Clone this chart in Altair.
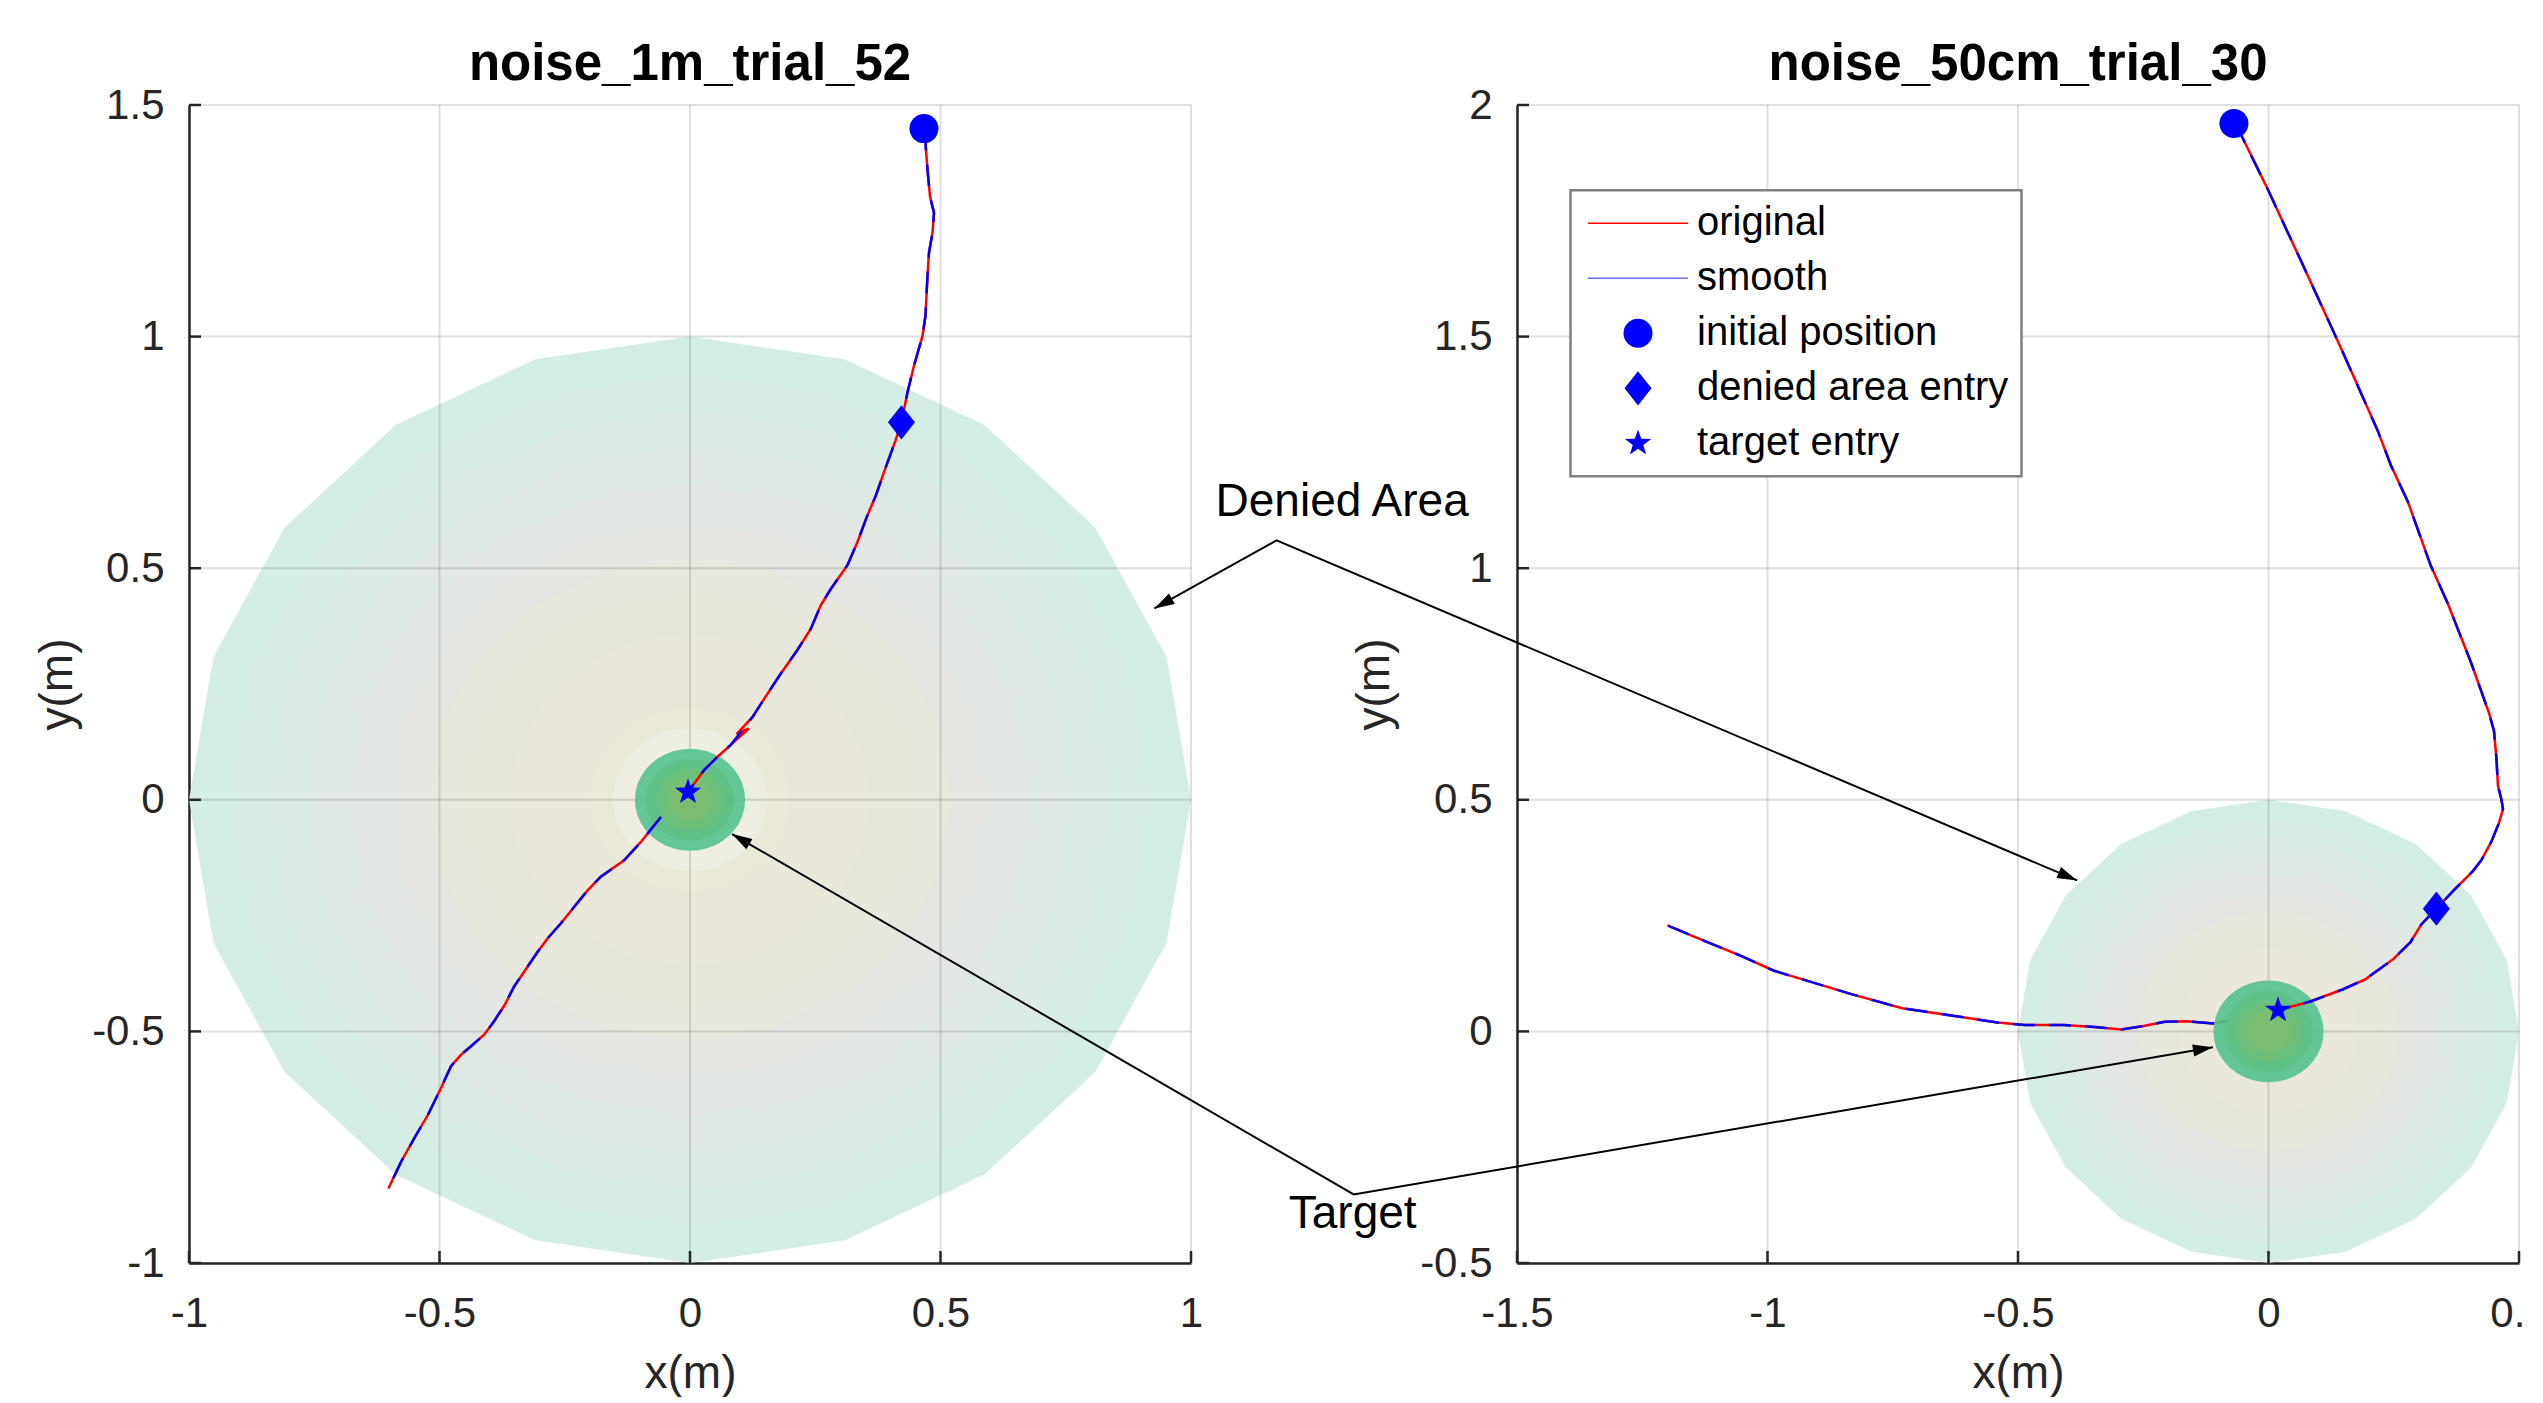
import math
import altair as alt
import numpy as np
import pandas as pd

FONT = "Liberation Sans"
AX_COLOR = "#262626"
RED = "#FF0000"
BLUE = "#0000FF"

# ---------------- layout (pixels) ----------------
W, H, GAP = 1002, 1158, 326

# ---------------- data ----------------
SERIES = ["original", "smooth", "initial position", "denied area entry", "target entry"]
LEGEND_COLORS = ["#FF0000", "#6B6BFF", "#0000FF", "#0000FF", "#0000FF"]

# left panel: noise_1m_trial_52
L_TITLE = "noise_1m_trial_52"
L_XDOM = [-1.0, 1.0]
L_YDOM = [-1.0, 1.5]
L_XTICKS = [-1, -0.5, 0, 0.5, 1]
L_YTICKS = [-1, -0.5, 0, 0.5, 1, 1.5]
L_CENTER = [0.0, 0.0]
L_DENIED_R = 1.0
L_TARGET_R = 0.11
# path from the initial position to the target entry
L_PRE_X = [0.467, 0.469, 0.474, 0.479, 0.487, 0.484, 0.477, 0.474, 0.470, 0.464,
           0.447, 0.434, 0.422, 0.410, 0.387, 0.371, 0.354, 0.334, 0.314, 0.281,
           0.261, 0.241, 0.214, 0.181, 0.148, 0.125, 0.081, 0.055, 0.028, -0.004]
L_PRE_Y = [1.449, 1.433, 1.361, 1.303, 1.267, 1.224, 1.181, 1.131, 1.045, 1.001,
           0.937, 0.879, 0.815, 0.775, 0.707, 0.657, 0.614, 0.556, 0.506, 0.455,
           0.420, 0.369, 0.323, 0.272, 0.218, 0.179, 0.118, 0.093, 0.064, 0.017]
# noise spike only in the original signal, inserted after point 25
L_SPIKE_AFTER = 25
L_SPIKE_X = [0.093, 0.117]
L_SPIKE_Y = [0.142, 0.154]
# path after the target entry
L_POST_X = [-0.004, -0.058, -0.098, -0.131, -0.178, -0.204, -0.231, -0.258, -0.284, -0.304,
            -0.324, -0.351, -0.370, -0.391, -0.411, -0.437, -0.457, -0.477, -0.497, -0.523,
            -0.550, -0.576, -0.602]
L_POST_Y = [0.017, -0.037, -0.091, -0.130, -0.166, -0.195, -0.231, -0.267, -0.299, -0.328,
            -0.360, -0.403, -0.443, -0.478, -0.507, -0.532, -0.550, -0.575, -0.622, -0.680,
            -0.730, -0.780, -0.839]
L_POST_HIDDEN = 2
L_MARK_X = [0.467, 0.422, -0.004]
L_MARK_Y = [1.449, 0.815, 0.017]

# right panel: noise_50cm_trial_30
R_TITLE = "noise_50cm_trial_30"
R_XDOM = [-1.5, 0.5]
R_YDOM = [-0.5, 2.0]
R_XTICKS = [-1.5, -1, -0.5, 0, 0.5]
R_YTICKS = [-0.5, 0, 0.5, 1, 1.5, 2]
R_CENTER = [0.0, 0.0]
R_DENIED_R = 0.5
R_TARGET_R = 0.11
R_PRE_X = [-0.069, -0.054, -0.001, 0.065, 0.128, 0.155, 0.218, 0.244, 0.278, 0.324,
           0.357, 0.404, 0.440, 0.450, 0.455, 0.458, 0.465, 0.468, 0.460, 0.445,
           0.425, 0.408, 0.372, 0.335, 0.305, 0.283, 0.249, 0.194, 0.149, 0.082, 0.019]
R_PRE_Y = [1.960, 1.934, 1.817, 1.663, 1.515, 1.450, 1.297, 1.223, 1.144, 1.005,
           0.926, 0.797, 0.688, 0.649, 0.589, 0.530, 0.500, 0.480, 0.450, 0.410,
           0.370, 0.346, 0.307, 0.265, 0.231, 0.192, 0.156, 0.113, 0.091, 0.064, 0.046]
R_POST_X = [0.019, -0.029, -0.062, -0.109, -0.163, -0.207, -0.252, -0.294, -0.341, -0.408,
            -0.486, -0.541, -0.630, -0.731, -0.831, -0.920, -0.987, -1.053, -1.143, -1.200]
R_POST_Y = [0.046, 0.032, 0.027, 0.017, 0.022, 0.021, 0.011, 0.004, 0.009, 0.014,
            0.014, 0.019, 0.034, 0.050, 0.080, 0.109, 0.131, 0.163, 0.203, 0.229]
R_POST_HIDDEN = 4
R_MARK_X = [-0.069, 0.335, 0.019]
R_MARK_Y = [1.960, 0.265, 0.046]

# annotations (text anchors and bends in right-panel units)
ANN_TEXT = ["Denied Area", "Target"]
ANN_TEXT_X = [-1.849, -1.828]
ANN_TEXT_Y = [1.112, -0.424]
ANN_BEND_X = [-1.980, -1.826]
ANN_BEND_Y = [1.060, -0.352]
ANN_LTIP_X = [0.927, 0.084]     # tips into the left panel (left-panel units)
ANN_LTIP_Y = [0.413, -0.074]
ANN_RTIP_X = [-0.382, -0.111]   # tips into the right panel (right-panel units)
ANN_RTIP_Y = [0.326, -0.034]

# shading of the denied area / target (fraction of radius, colour)
DENIED_SIDES = 20
RING_FRAC = [1.0, 0.92, 0.84, 0.76, 0.68, 0.60, 0.52, 0.44, 0.36, 0.28, 0.20, 0.155]
RING_COLOR = ["#D4EEE6", "#D8ECE6", "#DCEAE5", "#E0E8E4", "#E3E7E3", "#E5E6E1",
              "#E7E7DE", "#E8E7DC", "#E9E8DB", "#EAE8DA", "#EBE9DA", "#EFEEE3"]
TARGET_SIDES = 40
DISC_FRAC = [1.0, 0.8, 0.6, 0.4]
DISC_COLOR = ["#55C18E", "#60C185", "#6EC079", "#7CBF6E"]

# marker shapes
LINE_PATH = "M-3.45,-0.05L3.45,-0.05L3.45,0.05L-3.45,0.05Z"
DIAMOND_PATH = "M0,-1.18L0.93,0L0,1.18L-0.93,0Z"
STAR_PATH = ("M0,-0.95L0.2233,-0.3074L0.9035,-0.2936L0.3614,0.1174L0.5584,0.7686"
             "L0,0.38L-0.5584,0.7686L-0.3614,0.1174L-0.9035,-0.2936L-0.2233,-0.3074Z")
SHAPES = [LINE_PATH, LINE_PATH, "circle", DIAMOND_PATH, STAR_PATH]
ARROW_PATH = "M0,0L0.3,1L-0.3,1Z"
MARKER_SIZE = 841
LW = 2.5


def polygon_df(cx, cy, r, n):
    th = np.linspace(0, np.pi, n // 2 + 1)
    return pd.DataFrame({"x": cx + r * np.cos(th), "y": cy + r * np.sin(th),
                         "y2": cy - r * np.sin(th)})


def path_df(xs, ys):
    return pd.DataFrame({"x": list(xs), "y": list(ys), "i": list(range(len(xs)))})


LABEL_EXPR = "(datum.value < 0 ? '-' : '') + format(abs(datum.value), '~g')"


def make_panel(title, xdom, ydom, xticks, yticks, center, denied_r, target_r,
               pre_x, pre_y, orig_x, orig_y, post_x, post_y, hidden_n,
               mark_x, mark_y, legend, ytitle_pad, extra=None):
    xaxis = alt.Axis(values=xticks, labelExpr=LABEL_EXPR, grid=False, ticks=False, tickSize=0,
                     domainColor=AX_COLOR, domainWidth=2.5, labelFont=FONT, labelFontSize=42,
                     labelColor=AX_COLOR, labelPadding=30, labelFlush=False, labelOverlap=False,
                     title="x(m)", titleFont=FONT, titleFontSize=46, titleFontWeight="normal",
                     titleColor=AX_COLOR, titlePadding=17)
    yaxis = alt.Axis(values=yticks, labelExpr=LABEL_EXPR, grid=False, ticks=False, tickSize=0,
                     domainColor=AX_COLOR, domainWidth=2.5, labelFont=FONT, labelFontSize=42,
                     labelColor=AX_COLOR, labelPadding=25, labelFlush=False, labelOverlap=False,
                     title="y(m)", titleFont=FONT, titleFontSize=46, titleFontWeight="normal",
                     titleColor=AX_COLOR, titlePadding=ytitle_pad)
    xsc = alt.Scale(domain=xdom, nice=False, zero=False)
    ysc = alt.Scale(domain=ydom, nice=False, zero=False)

    def X():
        return alt.X("x:Q", scale=xsc, axis=xaxis)

    def Y():
        return alt.Y("y:Q", scale=ysc, axis=yaxis)

    layers = []
    cx, cy = center
    for frac, col in zip(RING_FRAC, RING_COLOR):
        layers.append(alt.Chart(polygon_df(cx, cy, denied_r * frac, DENIED_SIDES))
                      .mark_area(color=col, opacity=1, orient="vertical")
                      .encode(x=X(), y=Y(), y2="y2:Q"))
    # grid
    layers.append(alt.Chart(pd.DataFrame({"x": xticks}))
                  .mark_rule(color=AX_COLOR, opacity=0.15, strokeWidth=2).encode(x=X()))
    layers.append(alt.Chart(pd.DataFrame({"y": yticks}))
                  .mark_rule(color=AX_COLOR, opacity=0.15, strokeWidth=2).encode(y=Y()))

    def line_pair(df_orig, df_smooth):
        return [
            alt.Chart(df_orig).mark_line(color=RED, strokeWidth=LW)
            .encode(x=X(), y=Y(), order=alt.Order("i:Q")),
            alt.Chart(df_smooth).mark_line(color=BLUE, strokeWidth=LW, strokeDash=[22, 14])
            .encode(x=X(), y=Y(), order=alt.Order("i:Q")),
        ]

    hid = path_df(post_x[:hidden_n], post_y[:hidden_n])
    vis = path_df(post_x[hidden_n - 1:], post_y[hidden_n - 1:])
    layers += line_pair(hid, hid)
    for frac, col in zip(DISC_FRAC, DISC_COLOR):
        layers.append(alt.Chart(polygon_df(cx, cy, target_r * frac, TARGET_SIDES))
                      .mark_area(color=col, opacity=0.9, orient="vertical")
                      .encode(x=X(), y=Y(), y2="y2:Q"))
    layers += line_pair(vis, vis)
    layers += line_pair(path_df(orig_x, orig_y), path_df(pre_x, pre_y))

    mdf = pd.DataFrame({"x": mark_x, "y": mark_y, "series": SERIES[2:]})
    layers.append(alt.Chart(mdf).mark_point(filled=True, size=MARKER_SIZE, opacity=1, strokeWidth=0)
                  .encode(x=X(), y=Y(),
                          shape=alt.Shape("series:N", scale=alt.Scale(domain=SERIES, range=SHAPES),
                                          legend=legend),
                          color=alt.Color("series:N", scale=alt.Scale(domain=SERIES, range=LEGEND_COLORS),
                                          legend=legend)))
    # inward ticks
    layers.append(alt.Chart(pd.DataFrame({"x": xticks, "y": [ydom[0]] * len(xticks)}))
                  .mark_tick(orient="vertical", size=12, thickness=2.5, color=AX_COLOR, opacity=1, yOffset=-6)
                  .encode(x=X(), y=Y()))
    layers.append(alt.Chart(pd.DataFrame({"x": [xdom[0]] * len(yticks), "y": yticks}))
                  .mark_tick(orient="horizontal", size=12, thickness=2.5, color=AX_COLOR, opacity=1, xOffset=6)
                  .encode(x=X(), y=Y()))

    if extra is not None:
        layers += extra(X, Y)

    return alt.layer(*layers).properties(
        width=W, height=H,
        title=alt.TitleParams(title, font=FONT, fontSize=51, fontWeight="bold", color="black",
                              anchor="middle", baseline="alphabetic", offset=-47))


def annotations(X, Y):
    # convert left-panel tips into right-panel units
    def l2r_x(xl):
        px = (xl - L_XDOM[0]) * W / (L_XDOM[1] - L_XDOM[0]) - (W + GAP)
        return R_XDOM[0] + px * (R_XDOM[1] - R_XDOM[0]) / W

    def l2r_y(yl):
        return R_YDOM[0] + (yl - L_YDOM[0]) * (R_YDOM[1] - R_YDOM[0]) / (L_YDOM[1] - L_YDOM[0])

    kx = W / (R_XDOM[1] - R_XDOM[0])
    ky = H / (R_YDOM[1] - R_YDOM[0])
    rows, heads = [], []
    for g in range(len(ANN_TEXT)):
        lt = (l2r_x(ANN_LTIP_X[g]), l2r_y(ANN_LTIP_Y[g]))
        bd = (ANN_BEND_X[g], ANN_BEND_Y[g])
        rt = (ANN_RTIP_X[g], ANN_RTIP_Y[g])
        for i, p in enumerate([lt, bd, rt]):
            rows.append({"g": g, "i": i, "x": p[0], "y": p[1]})
        for tip in (lt, rt):
            dx = (tip[0] - bd[0]) * kx
            dy = -(tip[1] - bd[1]) * ky
            ang = math.degrees(math.atan2(dx, -dy)) % 360
            heads.append({"x": tip[0], "y": tip[1], "ang": ang})
    ldf = pd.DataFrame(rows)
    hdf = pd.DataFrame(heads)
    tdf = pd.DataFrame({"x": ANN_TEXT_X, "y": ANN_TEXT_Y, "label": ANN_TEXT})
    return [
        alt.Chart(ldf).mark_line(color="black", strokeWidth=2)
        .encode(x=X(), y=Y(), detail="g:N", order=alt.Order("i:Q")),
        alt.Chart(hdf).mark_point(shape=ARROW_PATH, filled=True, size=1600, color="black",
                                  opacity=1, strokeWidth=0)
        .encode(x=X(), y=Y(), angle=alt.Angle("ang:Q", scale=None)),
        alt.Chart(tdf).mark_text(font=FONT, fontSize=46, color="black", align="center",
                                 baseline="alphabetic")
        .encode(x=X(), y=Y(), text="label:N"),
    ]


def build(with_stroke_width=True):
    legend = alt.Legend(title=None, orient="none", legendX=53.5, legendY=85.3,
                        labelFont=FONT, labelFontSize=40, labelColor="black", labelLimit=1000,
                        symbolSize=MARKER_SIZE, symbolStrokeWidth=0, symbolOpacity=1,
                        symbolOffset=34.5, labelOffset=39, rowPadding=15, padding=13,
                        strokeColor="#808080", fillColor="white", cornerRadius=0)
    l_orig_x = L_PRE_X[:L_SPIKE_AFTER + 1] + L_SPIKE_X + L_PRE_X[L_SPIKE_AFTER + 1:]
    l_orig_y = L_PRE_Y[:L_SPIKE_AFTER + 1] + L_SPIKE_Y + L_PRE_Y[L_SPIKE_AFTER + 1:]
    left = make_panel(L_TITLE, L_XDOM, L_YDOM, L_XTICKS, L_YTICKS, L_CENTER, L_DENIED_R, L_TARGET_R,
                      L_PRE_X, L_PRE_Y, l_orig_x, l_orig_y, L_POST_X, L_POST_Y, L_POST_HIDDEN,
                      L_MARK_X, L_MARK_Y, None, 10)
    right = make_panel(R_TITLE, R_XDOM, R_YDOM, R_XTICKS, R_YTICKS, R_CENTER, R_DENIED_R, R_TARGET_R,
                       R_PRE_X, R_PRE_Y, R_PRE_X, R_PRE_Y, R_POST_X, R_POST_Y, R_POST_HIDDEN,
                       R_MARK_X, R_MARK_Y, legend, 21, extra=annotations)
    chart = alt.hconcat(left, right, spacing=GAP, bounds="flush").resolve_scale(
        color="independent", shape="independent"
    ).resolve_legend(
        color="independent", shape="independent"
    ).properties(
        padding={"left": 26, "top": 30, "right": -22, "bottom": 0}, background="white"
    ).configure_view(stroke="transparent")
    if with_stroke_width:
        chart = chart.configure_legend(strokeWidth=2.5)
    return chart


try:
    chart = build(True)
    chart.save("out.html", embed_options={"renderer": "svg", "actions": False})
except Exception:
    chart = build(False)
    chart.save("out.html", embed_options={"renderer": "svg", "actions": False})
